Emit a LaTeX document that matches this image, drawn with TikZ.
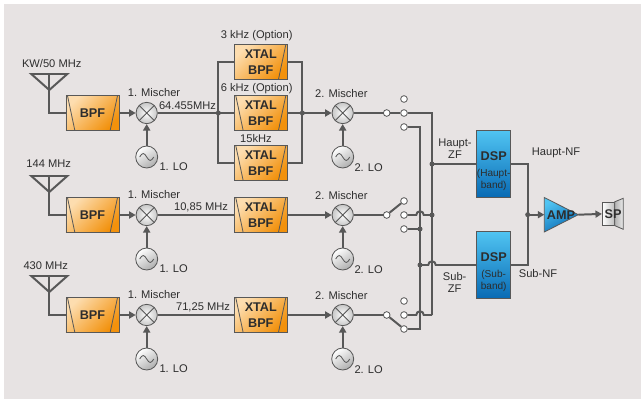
\documentclass[tikz,border=0pt]{standalone}
\usepackage{fontspec}
\setmainfont{Liberation Sans}
\usetikzlibrary{positioning,calc,arrows.meta}

\definecolor{panel}{RGB}{231,227,227}
\definecolor{wire}{RGB}{88,88,88}
\definecolor{ink}{RGB}{45,45,45}
\definecolor{orangeL}{RGB}{253,221,175}
\definecolor{orangeD}{RGB}{242,145,12}
\definecolor{blueL}{RGB}{80,196,242}
\definecolor{blueD}{RGB}{8,106,180}

\newcommand{\lblfont}{\fontsize{9.5}{10.5}\selectfont}
\newcommand{\boxfont}{\fontsize{10.8}{13.4}\selectfont\bfseries}
\newcommand{\dspsmall}{\fontsize{8.6}{9}\selectfont\mdseries}

\tikzset{
  wire/.style={draw=wire, line width=1.7pt},
  arr/.style={wire, -{Triangle[length=5.5pt,width=6pt]}},
  lbl/.style={font=\lblfont, text=ink, inner sep=0pt},
  filterbox/.style={draw=wire, line width=0.7pt, top color=orangeL, bottom color=orangeD,
    shading angle=45, minimum width=1.59cm, minimum height=1.03cm, inner sep=0pt,
    font=\boxfont, text=ink, align=center},
  bpfbox/.style={filterbox, path picture={
    \draw[wire, line width=0.7pt] ([xshift=1.3pt]path picture bounding box.north west) -- ([xshift=7.5pt]path picture bounding box.south west);
    \draw[wire, line width=0.7pt] ([xshift=-1.3pt]path picture bounding box.north east) -- ([xshift=-7.5pt]path picture bounding box.south east);}},
  optbox/.style={filterbox, path picture={
    \draw[wire, line width=0.7pt] ([xshift=-1.3pt]path picture bounding box.north east) -- ([xshift=-7.5pt]path picture bounding box.south east);}},
  mixer/.style={circle, draw=wire, line width=0.7pt, inner color=white, outer color=black!22,
    minimum size=0.64cm, inner sep=0pt, path picture={
    \draw[wire, line width=0.7pt] (path picture bounding box.north west) -- (path picture bounding box.south east)
      (path picture bounding box.north east) -- (path picture bounding box.south west);}},
  osc/.style={circle, draw=wire, line width=0.7pt, top color=white, bottom color=black!32,
    shading angle=35, minimum size=0.66cm, inner sep=0pt, path picture={
    \draw[wire, line width=0.7pt] ([xshift=-6pt]path picture bounding box.center)
      sin ++(3pt,3pt) cos ++(3pt,-3pt) sin ++(3pt,-3pt) cos ++(3pt,3pt);}},
  contact/.style={circle, draw=wire, line width=0.7pt, fill=white, minimum size=0.2cm, inner sep=0pt},
  dot/.style={circle, fill=wire, minimum size=0.15cm, inner sep=0pt},
  dsp/.style={draw=wire, line width=0.7pt, top color=blueL, bottom color=blueD,
    minimum width=1.02cm, minimum height=2.0cm, inner sep=0pt},
  dsptext/.style={font=\boxfont, text=ink, align=center, inner sep=0pt},
  boxtext/.style={font=\boxfont, text=ink, inner sep=0pt},
  ampshape/.style={draw=wire, line width=0.7pt, top color=blueL, bottom color=blueD, shading angle=30},
  spbox/.style={draw=wire, line width=0.7pt, left color=white, right color=black!25,
    minimum width=0.36cm, minimum height=0.69cm, inner sep=0pt},
  spcone/.style={draw=wire, line width=0.7pt, left color=black!30, right color=black!8}
}

\begin{document}
\begin{tikzpicture}[x=0.03cm, y=-0.03cm]

% Frame
\useasboundingbox (0,0) rectangle (641,399);
\fill[white] (0,0) rectangle (641,399);
\fill[panel] (4,4) rectangle (641,399);

% Receiver rows
\foreach \r/\y in {1/113,2/215,3/315} {
  \coordinate (ant\r) at (49.3,\y-39);
  \node[bpfbox] (bpf\r) at (92.5,\y) {BPF};
  \node[mixer] (mixA\r) at (146.7,\y) {};
  \node[osc] (loA\r) at (146.7,\y+44) {};
  \node[mixer] (mixB\r) at (342.7,\y) {};
  \node[osc] (loB\r) at (342.7,\y+44) {};
  \node[contact] (piv\r) at (386.7,\y) {};
  \node[contact] (ct\r) at (404,\y-14) {};
  \node[contact] (cm\r) at (404,\y) {};
  \node[contact] (cb\r) at (404,\y+14) {};
  \node[lbl] (mixAl\r) at (154,\y-20) {1. Mischer};
  \node[lbl, anchor=west] (loAl\r) at (159.3,\y+53.7) {1. LO};
  \node[lbl] (mixBl\r) at (341.3,\y-19.5) {2. Mischer};
  \node[lbl, anchor=west] (loBl\r) at (354.3,\y+54.5) {2. LO};
  \draw[wire] (ant\r) -- ++(-18,0) -- ++(18,16) -- ++(18,-16) -- cycle;
  \draw[wire] (ant\r) |- (bpf\r);
  \draw[arr] (bpf\r) -- (mixA\r);
  \draw[arr] (loA\r) -- (mixA\r);
  \draw[arr] (loB\r) -- (mixB\r);
  \draw[wire] (mixB\r) -- (piv\r);
}

% Antenna labels
\node[lbl] (band1) at (51.7,63.3) {KW/50 MHz};
\node[lbl] (band2) at (48.7,164) {144 MHz};
\node[lbl] (band3) at (45.8,265.7) {430 MHz};

% Crystal filters
\node[optbox] (xtal1a) at (260.8,62) {XTAL\\BPF};
\node[bpfbox] (xtal1b) at (260.8,113) {XTAL\\BPF};
\node[bpfbox] (xtal1c) at (260.8,163) {XTAL\\BPF};
\node[bpfbox] (xtal2) at (260.8,215) {XTAL\\BPF};
\node[bpfbox] (xtal3) at (260.8,315) {XTAL\\BPF};
\node[lbl] (bw1) at (256.7,36) {3 kHz (Option)};
\node[lbl] (bw2) at (256.7,88.3) {6 kHz (Option)};
\node[lbl] (bw3) at (256,139) {15kHz};
\node[lbl] (f1) at (187.5,105.5) {64.455MHz};
\node[lbl] (f2) at (201,207.5) {10,85 MHz};
\node[lbl] (f3) at (203,307.5) {71,25 MHz};

% IF lines
\coordinate (jl) at (218.3,113);
\coordinate (jr) at (302.3,113);
\draw[wire] (mixA1) -- (xtal1b);
\draw[wire] (xtal1a) -| (jl) |- (xtal1c);
\draw[wire] (xtal1a) -| (jr) |- (xtal1c);
\draw[arr] (xtal1b) -- (mixB1);
\foreach \r in {2,3} {
  \draw[wire] (mixA\r) -- (xtal\r);
  \draw[arr] (xtal\r) -- (mixB\r);
}

% Switches
\draw[wire] (piv1) -- (cm1);
\draw[wire] (piv2) -- (ct2);
\draw[wire] (piv3) -- (cb3);

% DSP blocks
\node[dsp] (dspH) at (493.7,164) {};
\node[dsp] (dspS) at (493.7,265) {};
\node[dsptext] (dspHt) at ($(dspH)+(0,7)$) {DSP\\[0pt]{\dspsmall(Haupt-}\\[-3pt]{\dspsmall band)}};
\node[dsptext] (dspSt) at ($(dspS)+(0,7)$) {DSP\\[0pt]{\dspsmall(Sub-}\\[-3pt]{\dspsmall band)}};

% Bus lines
\coordinate (hb) at (432,315);
\coordinate (sb) at (420,329);
\coordinate (jh2) at (432,215);
\coordinate (js2) at (420,229);
\coordinate (jhz) at (432,164);
\coordinate (jsz) at (420,265);
\draw[wire] (cm1) -| (hb);
\draw[wire] (cb1) -| (sb) -- (cb3);
\draw[wire] (cm2) -- (416.25,215) arc[start angle=180, end angle=0, radius=3.2pt] -- (jh2);
\draw[wire] (cb2) -- (js2);
\draw[wire] (cm3) -- (416.25,315) arc[start angle=180, end angle=0, radius=3.2pt] -- (hb);
\draw[wire] (jhz) -- (dspH);
\draw[wire] (jsz) -- (428.25,265) arc[start angle=180, end angle=0, radius=3.2pt] -- (dspS);
\node[lbl, align=center] (hzf) at (455,148.8) {Haupt-\\ZF};
\node[lbl, align=center] (szf) at (454.7,282.7) {Sub-\\ZF};

% Audio path
\coordinate (jnf) at (527.7,214.7);
\coordinate (ampin) at (544.3,214.7);
\coordinate (ampout) at (578.3,214.7);
\draw[wire] (dspH) -| (jnf) |- (dspS);
\node[lbl] (hnf) at (556,152.7) {Haupt-NF};
\node[lbl] (snf) at (538,274) {Sub-NF};
\path[ampshape] (544.3,197.5) -- (ampout) -- (544.3,232) -- cycle;
\node[boxtext] (amp) at (561,214.7) {AMP};
\draw[arr] (jnf) -- (ampin);
\node[spbox] (sp) at (608.3,213.7) {};
\path[spcone] (sp.north east) -- (623.3,198.3) -- (623.3,229.3) -- (sp.south east) -- cycle;
\node[boxtext] (spt) at (613,214) {SP};
\draw[arr] (ampout) -- (sp);

% Junction dots
\foreach \j in {jl,jr,jh2,js2,jhz,jsz,jnf}
  \node[dot] at (\j) {};

\end{tikzpicture}
\end{document}
